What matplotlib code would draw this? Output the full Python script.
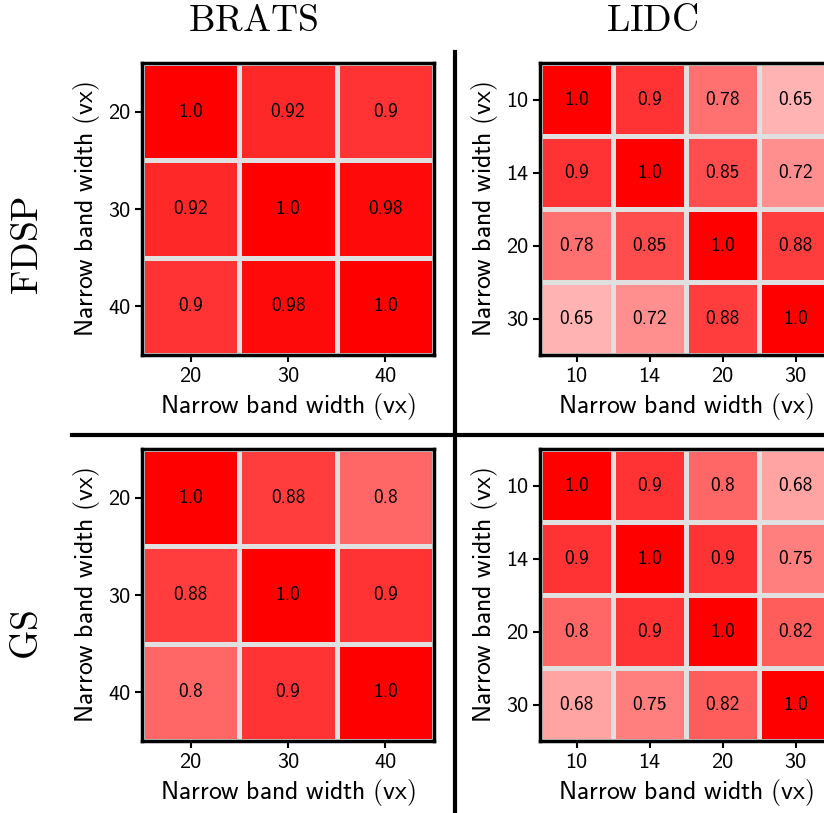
import matplotlib
matplotlib.use("Agg")
import matplotlib.pyplot as plt
from matplotlib.colors import LinearSegmentedColormap
from matplotlib.lines import Line2D
import numpy as np

plt.rcParams['mathtext.fontset'] = 'cm'

# band widths (vx)
brats_widths = [20, 30, 40]
lidc_widths = [10, 14, 20, 30]

# similarity matrices
brats_fdsp = [[1.0, 0.92, 0.9],
              [0.92, 1.0, 0.98],
              [0.9, 0.98, 1.0]]
brats_gs = [[1.0, 0.88, 0.8],
            [0.88, 1.0, 0.9],
            [0.8, 0.9, 1.0]]
lidc_fdsp = [[1.0, 0.9, 0.78, 0.65],
             [0.9, 1.0, 0.85, 0.72],
             [0.78, 0.85, 1.0, 0.88],
             [0.65, 0.72, 0.88, 1.0]]
lidc_gs = [[1.0, 0.9, 0.8, 0.68],
           [0.9, 1.0, 0.9, 0.75],
           [0.8, 0.9, 1.0, 0.82],
           [0.68, 0.75, 0.82, 1.0]]

col_titles = ["BRATS", "LIDC"]
row_titles = ["FDSP", "GS"]

cmap = LinearSegmentedColormap.from_list("wr", ["#ffffff", "#ff0000"])
SANS = ['cmss10', 'DejaVu Sans']


def sf(s):
    return r'$\mathsf{' + s.replace(' ', r'\ ') + '}$'


def heat(ax, mat, widths):
    mat = np.array(mat)
    n = len(widths)
    ax.pcolormesh(np.arange(n + 1), np.arange(n + 1), mat, cmap=cmap,
                  vmin=0.5, vmax=1.0, edgecolors='#e0e0e0', linewidth=2.2)
    ax.set_xlim(0, n)
    ax.set_ylim(n, 0)
    ax.set_aspect('auto')
    for i in range(n):
        for j in range(n):
            ax.text(j + 0.5, i + 0.5, str(mat[i, j]), ha='center',
                    va='center', fontsize=14, color='black', family=SANS)
    ax.set_xticks(np.arange(n) + 0.5)
    ax.set_yticks(np.arange(n) + 0.5)
    ax.set_xticklabels([str(w) for w in widths], fontsize=16, family=SANS)
    ax.set_yticklabels([str(w) for w in widths], fontsize=16, family=SANS)
    ax.set_xlabel(sf('Narrow band width (vx)'), fontsize=18.5, labelpad=4)
    ax.set_ylabel(sf('Narrow band width (vx)'), fontsize=18.5, labelpad=4)
    ax.tick_params(length=5, width=1.5)
    for s in ax.spines.values():
        s.set_linewidth(2.5)


fig = plt.figure(figsize=(8.24, 8.13), dpi=100)
W, H = 824.0, 813.0
side = 292.0
lefts = [142, 540]
tops = [63, 449]
mats = [[brats_fdsp, lidc_fdsp], [brats_gs, lidc_gs]]
widths = [brats_widths, lidc_widths]

for r in range(2):
    for c in range(2):
        ax = fig.add_axes([lefts[c] / W, 1 - (tops[r] + side) / H,
                           side / W, side / H])
        heat(ax, mats[r][c], widths[c])

# column and row headers
fig.text(253 / W, 1 - 21 / H, r'$\mathrm{' + col_titles[0] + '}$',
         fontsize=27, ha='center', va='center')
fig.text(652 / W, 1 - 21 / H, r'$\mathrm{' + col_titles[1] + '}$',
         fontsize=27, ha='center', va='center')
fig.text(28 / W, 1 - 245 / H, r'$\mathrm{' + row_titles[0] + '}$',
         fontsize=27, ha='center', va='center', rotation=90)
fig.text(28 / W, 1 - 635 / H, r'$\mathrm{' + row_titles[1] + '}$',
         fontsize=27, ha='center', va='center', rotation=90)

# separators
fig.add_artist(Line2D([455 / W, 455 / W], [0, 1 - 52 / H], color='black',
                      linewidth=3, transform=fig.transFigure))
fig.add_artist(Line2D([72 / W, 1], [1 - 435 / H, 1 - 435 / H], color='black',
                      linewidth=3, transform=fig.transFigure))

fig.savefig("out.png", dpi=100)
